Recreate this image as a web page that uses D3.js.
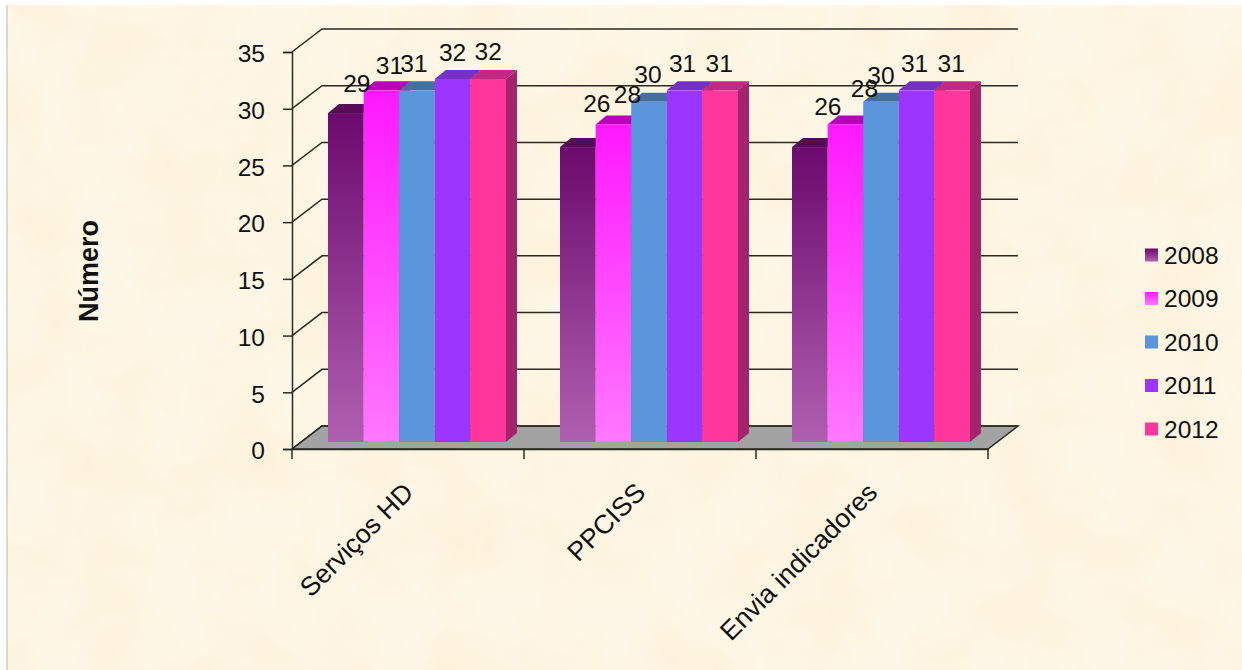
<!DOCTYPE html>
<html lang="pt">
<head>
  <meta charset="UTF-8">
  <title>Número por ano</title>
  <script src="https://d3js.org/d3.v7.min.js"></script>
  <style>
    html, body { margin: 0; padding: 0; background: #fff; }
    svg { display: block; }
    text { font-family: "Liberation Sans", Arial, sans-serif; fill: #111; }
  </style>
</head>
<body>
  <svg id="chart" width="1242" height="670"></svg>
  <script>
    const categories = ["Serviços HD", "PPCISS", "Envia indicadores"];
    const years = ["2008", "2009", "2010", "2011", "2012"];
    const values2008 = [29, 26, 26];
    const values2009 = [31, 28, 28];
    const values2010 = [31, 30, 30];
    const values2011 = [32, 31, 31];
    const values2012 = [32, 31, 31];
    const yTicks = [0, 5, 10, 15, 20, 25, 30, 35];
    const seriesValues = [values2008, values2009, values2010, values2011, values2012];

    // top colour, bottom colour, roof colour
    const barColors = [
      ["#6c0a6e", "#b060b0", "#570a58"],
      ["#ff19ff", "#ff78ff", "#b800b8"],
      ["#5b96dc", "#5b96dc", "#44709f"],
      ["#9c36ff", "#9c36ff", "#7530c4"],
      ["#ff369c", "#ff369c", "#c02a80"]
    ];
    const sideColor = "#a4246c";

    // hand placed data labels, [dx, dy] from the bar's top centre, per category then series
    const labelNudge = [
      [[11, -21], [8, -16], [-3, -18], [0, -18], [0, -19]],
      [[19, -35], [14, -21], [-1, -19], [-2, -18], [-1, -18]],
      [[18, -32], [19, -27], [0, -18], [-2, -18], [-1, -18]]
    ];

    const svg = d3.select("#chart");
    const defs = svg.append("defs");

    // parchment mottling
    const paper = defs.append("filter").attr("id", "paper")
      .attr("x", 0).attr("y", 0).attr("width", "100%").attr("height", "100%");
    paper.append("feTurbulence").attr("type", "fractalNoise")
      .attr("baseFrequency", 0.014).attr("numOctaves", 3).attr("seed", 7);
    paper.append("feColorMatrix").attr("type", "matrix")
      .attr("values", "0 0 0 0 0.95  0 0 0 0 0.82  0 0 0 0 0.55  0 0 0 0.6 -0.2");
    paper.append("feComposite").attr("in2", "SourceGraphic").attr("operator", "over");

    barColors.forEach((c, i) => {
      const g = defs.append("linearGradient").attr("id", "bar" + i)
        .attr("x1", 0).attr("y1", 0).attr("x2", 0).attr("y2", 1);
      g.append("stop").attr("offset", "0%").attr("stop-color", c[0]);
      g.append("stop").attr("offset", "100%").attr("stop-color", c[1]);
    });

    svg.append("rect").attr("x", 7).attr("y", 5).attr("width", 1235).attr("height", 665)
      .attr("fill", "#fef6e6").attr("filter", "url(#paper)");
    svg.append("line").attr("x1", 7).attr("x2", 7).attr("y1", 5).attr("y2", 670)
      .attr("stroke", "#b9b5ae").attr("stroke-width", 1);

    const y = d3.scaleLinear().domain([0, 35]).range([449, 52]);
    const x0 = d3.scaleBand().domain(categories).range([292, 988]);
    const xBar = d3.scaleBand().domain(years).range([36, 214]);
    const depthX = 30, depthY = 23;      // floor depth
    const barDx = 11, barDy = 9, barInset = 7;  // bar depth

    const axisColor = "#2b2b20";

    // floor
    svg.append("path")
      .attr("d", d3.line()([
        [x0.range()[0], y(0)],
        [x0.range()[0] + depthX, y(0) - depthY],
        [x0.range()[1] + depthX, y(0) - depthY],
        [x0.range()[1], y(0)]
      ]) + "Z")
      .attr("fill", "#a3a3a3").attr("stroke", axisColor).attr("stroke-width", 1.5);

    // grid: slanted part on the side wall, then along the back wall
    svg.append("g").selectAll("path").data(yTicks).join("path")
      .attr("d", d => d3.line()([
        [x0.range()[0], y(d)],
        [x0.range()[0] + depthX, y(d) - depthY],
        [x0.range()[1] + depthX, y(d) - depthY]
      ]))
      .attr("fill", "none").attr("stroke", axisColor).attr("stroke-width", 1.5);

    // axes
    const yAxis = d3.axisLeft(y).tickValues(yTicks).tickSize(9).tickPadding(18);
    const yG = svg.append("g").attr("transform", `translate(${x0.range()[0]},0)`).call(yAxis);
    yG.select(".domain").attr("stroke", axisColor).attr("stroke-width", 1.5);
    yG.selectAll("line").attr("stroke", axisColor).attr("stroke-width", 1.5);
    yG.selectAll("text").attr("dy", "0.4em").style("font-size", "24.5px").style("font-family", "Liberation Sans");

    const xAxis = d3.axisBottom(x0).tickValues([]).tickSizeOuter(0);
    const xG = svg.append("g").attr("transform", `translate(0,${y(0)})`).call(xAxis);
    xG.select(".domain").attr("stroke", axisColor).attr("stroke-width", 1.5);
    xG.selectAll(".cat-tick").data(d3.range(categories.length + 1)).join("line")
      .attr("class", "cat-tick")
      .attr("x1", i => x0.range()[0] + i * x0.bandwidth())
      .attr("x2", i => x0.range()[0] + i * x0.bandwidth())
      .attr("y1", 0).attr("y2", 10)
      .attr("stroke", axisColor).attr("stroke-width", 1.5);

    // bars, drawn left to right so each one covers its neighbour's side
    const base = y(0) - barInset;
    const labels = [];
    categories.forEach((cat, c) => {
      years.forEach((yr, s) => {
        const v = seriesValues[s][c];
        const left = x0(cat) + xBar(yr);
        const w = xBar.bandwidth();
        const top = y(v) - barInset;
        const g = svg.append("g");
        g.append("path")
          .attr("d", d3.line()([[left, top], [left + barDx, top - barDy], [left + w + barDx, top - barDy], [left + w, top]]) + "Z")
          .attr("fill", barColors[s][2]);
        g.append("path")
          .attr("d", d3.line()([[left + w, top], [left + w + barDx, top - barDy], [left + w + barDx, base - barDy], [left + w, base]]) + "Z")
          .attr("fill", sideColor);
        g.append("rect").attr("x", left).attr("y", top).attr("width", w).attr("height", base - top)
          .attr("fill", `url(#bar${s})`);
        const nudge = labelNudge[c][s];
        labels.push({ v, x: left + w / 2 + nudge[0], y: top + nudge[1] });
      });
    });

    svg.append("g").selectAll("text").data(labels).join("text")
      .attr("x", d => d.x).attr("y", d => d.y)
      .attr("text-anchor", "middle").style("font-size", "24.5px")
      .text(d => d.v);

    // category labels
    svg.append("g").selectAll("text").data(categories).join("text")
      .attr("text-anchor", "end")
      .attr("transform", d => `translate(${x0(d) + x0.bandwidth() / 2 + 7},494) rotate(-45)`)
      .style("font-size", "26.5px")
      .text(d => d);

    // y title
    svg.append("text")
      .attr("transform", "translate(98,271) rotate(-90)")
      .attr("text-anchor", "middle")
      .style("font-size", "27px").style("font-weight", "bold")
      .text("Número");

    // legend
    const legendY = d3.scalePoint().domain(years).range([255, 429]);
    const legend = svg.append("g").selectAll("g").data(years).join("g")
      .attr("transform", d => `translate(1145,${legendY(d)})`);
    legend.append("rect").attr("x", 0).attr("y", -6.5).attr("width", 13).attr("height", 13)
      .attr("fill", (d, i) => `url(#bar${i})`);
    legend.append("text").attr("x", 19).attr("y", 8.5)
      .style("font-size", "24.5px").text(d => d);
  </script>
</body>
</html>
